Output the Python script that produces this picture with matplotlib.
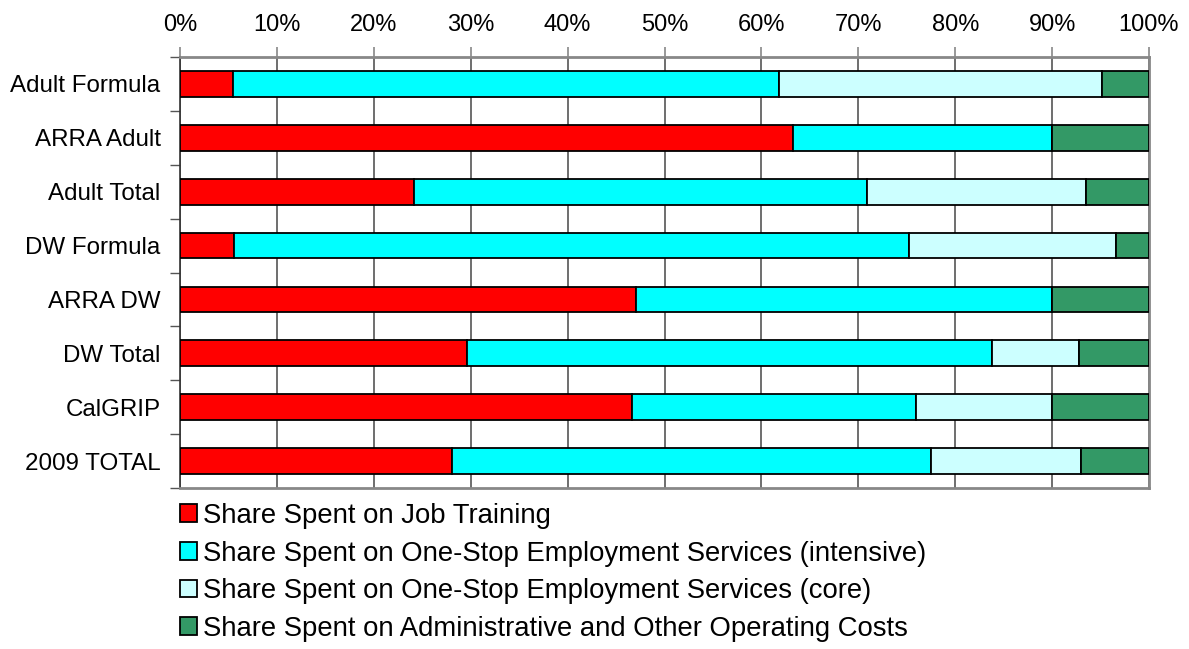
import matplotlib
matplotlib.use("Agg")
import matplotlib.pyplot as plt
import numpy as np
from matplotlib.ticker import FixedLocator, PercentFormatter

categories = ["Adult Formula", "ARRA Adult", "Adult Total", "DW Formula",
              "ARRA DW", "DW Total", "CalGRIP", "2009 TOTAL"]
job_training = [5.5, 63.3, 24.2, 5.6, 47.1, 29.6, 46.6, 28.1]
intensive = [56.3, 26.7, 46.7, 69.6, 42.9, 54.2, 29.4, 49.4]
core = [33.4, 0.0, 22.6, 21.4, 0.0, 9.0, 14.0, 15.5]
admin = [4.8, 10.0, 6.5, 3.4, 10.0, 7.2, 10.0, 7.0]

series_labels = [
    "Share Spent on Job Training",
    "Share Spent on One-Stop Employment Services (intensive)",
    "Share Spent on One-Stop Employment Services (core)",
    "Share Spent on Administrative and Other Operating Costs",
]
series = [job_training, intensive, core, admin]
colors = ["#FF0000", "#00FFFF", "#CCFFFF", "#339966"]

plt.rcParams['font.family'] = ['Liberation Sans', 'DejaVu Sans']

fig = plt.figure(figsize=(11.89, 6.49), dpi=100)
ax = fig.add_axes([180/1189, 1-488/649, (1149-180)/1189, (488-57)/649])

y = np.arange(len(categories))
left = np.zeros(len(categories))
handles = []
for vals, col, lab in zip(series, colors, series_labels):
    vals = np.array(vals)
    b = ax.barh(y, vals, left=left, height=0.48, color=col, edgecolor="black",
                linewidth=1.3, label=lab, zorder=3)
    handles.append(b)
    left = left + vals

ax.set_xlim(0, 100)
ax.set_ylim(len(categories) - 0.5, -0.5)
ax.xaxis.set_major_locator(FixedLocator(np.arange(0, 101, 10)))
ax.xaxis.set_major_formatter(PercentFormatter(decimals=0))
ax.xaxis.tick_top()
ax.tick_params(axis='x', which='major', direction='out', length=7, width=1.2,
               color='#888888', labelsize=17, pad=8)
ax.grid(axis='x', color='#555555', linewidth=1.2, zorder=0)

ax.set_yticks(y)
ax.set_yticklabels(categories)
ax.set_yticks(np.arange(-0.5, len(categories) + 0.5, 1), minor=True)
ax.tick_params(axis='y', which='major', length=0, labelsize=17.4, pad=14)
ax.tick_params(axis='y', which='minor', length=7.5, width=1.0, color='#555555')

for s in ["top", "right", "bottom"]:
    ax.spines[s].set_color('#888888')
    ax.spines[s].set_linewidth(2)
ax.spines["left"].set_color('#333333')
ax.spines["left"].set_linewidth(1.2)

leg = fig.legend(handles=handles, labels=series_labels, loc='upper left',
                 bbox_to_anchor=(180/1189, 1-503/649), frameon=False,
                 fontsize=19.8, handlelength=0.62, handleheight=0.62,
                 handletextpad=0.22, labelspacing=0.42, borderpad=0,
                 borderaxespad=0)

fig.savefig("out.png", dpi=100)
